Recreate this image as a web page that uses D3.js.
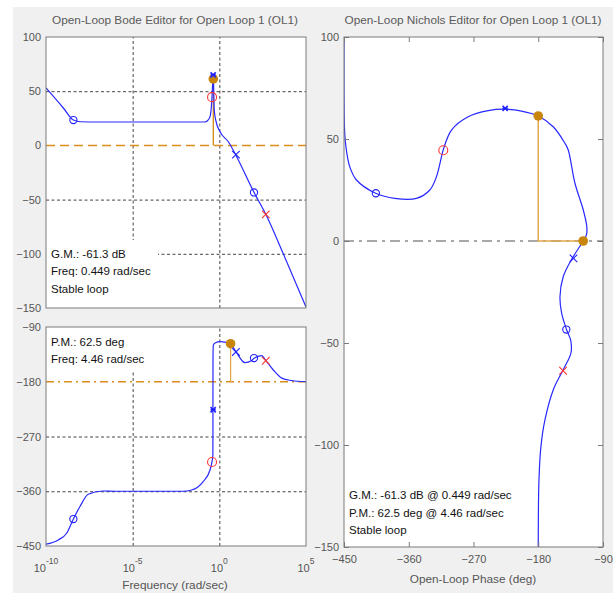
<!DOCTYPE html>
<html>
<head>
<meta charset="utf-8">
<script src="https://cdnjs.cloudflare.com/ajax/libs/d3/7.8.5/d3.min.js"></script>
<style>
html, body { margin: 0; padding: 0; background: #fff; }
svg { display: block; font-family: "Liberation Sans", Arial, sans-serif; }
</style>
</head>
<body>
<div id="chart"></div>
<script>
// Bode magnitude (rad/sec, dB)
var magFreq = [1e-10, 1e-9, 3.8e-9, 1e-8, 1e-7, 0.15, 0.2, 0.29, 0.36, 0.38, 0.445, 0.51, 0.62, 1.1, 3.3, 10, 100, 480, 4900, 1e5];
var magDb   = [53, 34.5, 23.4, 21.8, 21.6, 21.6, 22.5, 26.5, 38.9, 45, 66, 32.7, 23.4, 12.6, 3.4, -10.4, -43.3, -63.6, -100, -149];

// Bode phase (rad/sec, deg)
var phaseFreq = [1e-10, 5.1e-10, 1.55e-9, 3.8e-9, 9.1e-9, 2.75e-8, 2e-7, 1e-6, 7.8e-3, 0.025, 0.117, 0.29, 0.38, 0.425, 0.428, 0.431, 0.45, 0.6, 1.1, 4.46, 9.1, 30, 74, 100, 280, 480, 1300, 4000, 15000, 1e5];
var phaseDeg  = [-447, -440, -429, -405.6, -385, -365, -359.6, -360, -360, -358, -344, -325, -311, -300, -226, -140, -120, -116, -114, -117.5, -130.6, -148.7, -145, -141.5, -137, -145, -160.7, -174, -178, -180];

// Nichols curve (deg, dB)
var nicholsPhase = [-450, -449, -446.7, -442, -432.7, -405.9, -379.4, -349.3, -330.7, -321.5, -314.5, -312.5, -300.6, -277.4, -249.6, -226.4, -203.2, -180, -159.2, -142.9, -138.3, -129, -117.4, -112.5, -113, -117.5, -133.6, -145.3, -149.8, -147.5, -140.5, -135, -134.6, -146.1, -159.2, -170.7, -176.3, -179, -180];
var nicholsMag   = [100, 52.8, 44.6, 36.4, 29.9, 23.4, 20.9, 20.9, 25, 31.5, 41.3, 44.2, 54.4, 60.9, 63.9, 64.6, 63.7, 61.3, 56, 47.9, 44.6, 28.3, 15.2, 7, 3, 0, -9, -17.5, -27.3, -35.4, -43.6, -48.5, -55, -63.6, -73, -87.7, -100.8, -117, -150];

// compensator markers
var markers = [
  { freq: 3.8e-9, mag: 23.4, phase: -405.7, shape: "o", color: "#2222ff" },
  { freq: 0.38,   mag: 44.5, phase: -312,   shape: "o", color: "#ff3333" },
  { freq: 0.44,   mag: 65,   phase: -226,   shape: "*", color: "#2222ff" },
  { freq: 9.1,    mag: -8.5, phase: -131,   shape: "x", color: "#2222ff" },
  { freq: 100,    mag: -43.4, phase: -141,  shape: "o", color: "#2222ff" },
  { freq: 480,    mag: -63.6, phase: -145.5, shape: "x", color: "#ff3333" }
];

// stability margins
var gmDb = -61.3, gmFreq = 0.449;
var pmDeg = 62.5, pmFreq = 4.46;

var freqTicks = [1e-10, 1e-5, 1e0, 1e5];
var magTicks = [100, 50, 0, -50, -100, -150];
var phaseTicks = [-90, -180, -270, -360, -450];
var nicholsXTicks = [-450, -360, -270, -180, -90];
var nicholsYTicks = [100, 50, 0, -50, -100, -150];

var W = 613, H = 593;
var BLUE = "#2828ff", GOLD = "#c8860c", LINE_GOLD = "#e2a64c", DASH_GOLD = "#dc8e1c";
var TICK_COL = "#555", TITLE_COL = "#5a5a5a";

var svg = d3.select("#chart").append("svg").attr("width", W).attr("height", H);
svg.append("rect").attr("x", 13).attr("y", 7).attr("width", W - 13).attr("height", H - 7).attr("fill", "#f0f0f0");

var magBox = { x0: 46, x1: 306, y0: 37, y1: 308 };
var phBox = { x0: 46, x1: 306, y0: 327, y1: 546 };
var niBox = { x0: 344, x1: 603, y0: 37, y1: 547 };

var xFreq = d3.scaleLog().domain([1e-10, 1e5]).range([magBox.x0, magBox.x1]);
var yMag = d3.scaleLinear().domain([-150, 100]).range([magBox.y1, magBox.y0]);
var yPh = d3.scaleLinear().domain([-450, -90]).range([phBox.y1, phBox.y0]);
var xNi = d3.scaleLinear().domain([-450, -90]).range([niBox.x0, niBox.x1]);
var yNi = d3.scaleLinear().domain([-150, 100]).range([niBox.y1, niBox.y0]);

function panel(box, id) {
  svg.append("clipPath").attr("id", id).append("rect")
    .attr("x", box.x0).attr("y", box.y0).attr("width", box.x1 - box.x0).attr("height", box.y1 - box.y0);
  svg.append("rect").attr("x", box.x0).attr("y", box.y0)
    .attr("width", box.x1 - box.x0).attr("height", box.y1 - box.y0).attr("fill", "#fff");
  return svg.append("g").attr("clip-path", "url(#" + id + ")");
}

function styleLabels(g) {
  g.select(".domain").remove();
  g.selectAll("text").attr("fill", TICK_COL).style("font-size", "11px");
}

function grid(g, box, yScale, yVals) {
  g.append("g").attr("transform", "translate(" + box.x0 + ",0)")
    .call(d3.axisLeft(yScale).tickValues(yVals).tickSize(-(box.x1 - box.x0)).tickFormat(""))
    .call(function(a) {
      a.select(".domain").remove();
      a.selectAll("line").attr("stroke", "#444").attr("stroke-dasharray", "3,2.5");
    });
  g.append("g").attr("transform", "translate(0," + box.y1 + ")")
    .call(d3.axisBottom(xFreq).tickValues([1e-5, 1e0]).tickSize(-(box.y1 - box.y0)).tickFormat(""))
    .call(function(a) {
      a.select(".domain").remove();
      a.selectAll("line").attr("stroke", "#444").attr("stroke-dasharray", "3,2.5");
    });
}

function drawMarker(g, x, y, m) {
  if (m.shape === "o") {
    g.append("circle").attr("cx", x).attr("cy", y).attr("r", m.color === "#ff3333" ? 4.5 : 3.6)
      .attr("fill", "none").attr("stroke", m.color).attr("stroke-width", 1.1);
  } else if (m.shape === "x") {
    var s = 3.8;
    g.append("path").attr("d", "M" + (x - s) + "," + (y - s) + "L" + (x + s) + "," + (y + s) +
      "M" + (x - s) + "," + (y + s) + "L" + (x + s) + "," + (y - s))
      .attr("stroke", m.color).attr("stroke-width", 1.1);
  } else {
    var r = 2.6;
    g.append("path").attr("d", "M" + (x - r) + "," + (y - r) + "L" + (x + r) + "," + (y + r) +
      "M" + (x - r) + "," + (y + r) + "L" + (x + r) + "," + (y - r) +
      "M" + (x - r) + "," + y + "L" + (x + r) + "," + y)
      .attr("stroke", m.color).attr("stroke-width", 1.6);
  }
}

function infoBox(lines, x, y0, dy) {
  lines.forEach(function(t, i) {
    svg.append("text").attr("x", x).attr("y", y0 + i * dy).attr("fill", "#111")
      .style("font-size", "11.5px").text(t);
  });
}

// ---------- Bode magnitude ----------
var gMag = panel(magBox, "clipMag");
grid(gMag, magBox, yMag, [50, -50, -100]);
// white patch under the margin text
gMag.append("rect").attr("x", magBox.x0).attr("y", 240).attr("width", 112).attr("height", magBox.y1 - 240).attr("fill", "#fff");
gMag.append("line").attr("x1", magBox.x0).attr("x2", magBox.x1).attr("y1", yMag(0)).attr("y2", yMag(0))
  .attr("stroke", DASH_GOLD).attr("stroke-width", 1.5).attr("stroke-dasharray", "9,5");
gMag.append("line").attr("x1", xFreq(gmFreq)).attr("x2", xFreq(gmFreq)).attr("y1", yMag(0)).attr("y2", yMag(-gmDb))
  .attr("stroke", "#d08a10").attr("stroke-width", 1.3);
gMag.append("path").datum(d3.zip(magFreq, magDb))
  .attr("d", d3.line().x(function(d) { return xFreq(d[0]); }).y(function(d) { return yMag(d[1]); }).curve(d3.curveMonotoneX))
  .attr("fill", "none").attr("stroke", BLUE).attr("stroke-width", 1.2);
gMag.append("circle").attr("cx", xFreq(gmFreq)).attr("cy", yMag(-gmDb)).attr("r", 4.8).attr("fill", GOLD);
markers.forEach(function(m) { drawMarker(gMag, xFreq(m.freq), yMag(m.mag), m); });
svg.append("rect").attr("x", magBox.x0).attr("y", magBox.y0).attr("width", magBox.x1 - magBox.x0)
  .attr("height", magBox.y1 - magBox.y0).attr("fill", "none").attr("stroke", "#7a7a7a");
svg.append("g").attr("transform", "translate(" + (magBox.x0 - 2) + ",0)")
  .call(d3.axisLeft(yMag).tickValues(magTicks).tickSize(0).tickPadding(3)).call(styleLabels);
infoBox(["G.M.: " + gmDb + " dB", "Freq: " + gmFreq + " rad/sec", "Stable loop"], 51, 258, 17.3);
svg.append("text").attr("x", 175).attr("y", 24).attr("text-anchor", "middle").attr("fill", TITLE_COL)
  .style("font-size", "11.8px").text("Open-Loop Bode Editor for Open Loop 1 (OL1)");

// ---------- Bode phase ----------
var gPh = panel(phBox, "clipPh");
grid(gPh, phBox, yPh, [-270, -360, -450]);
gPh.append("rect").attr("x", phBox.x0).attr("y", phBox.y0).attr("width", 110).attr("height", 44).attr("fill", "#fff");
gPh.append("line").attr("x1", phBox.x0).attr("x2", phBox.x1).attr("y1", yPh(-180)).attr("y2", yPh(-180))
  .attr("stroke", DASH_GOLD).attr("stroke-width", 1.5).attr("stroke-dasharray", "8,4,2,4");
gPh.append("line").attr("x1", xFreq(pmFreq)).attr("x2", xFreq(pmFreq)).attr("y1", yPh(-180)).attr("y2", yPh(-180 + pmDeg))
  .attr("stroke", LINE_GOLD).attr("stroke-width", 1.3);
gPh.append("path").datum(d3.zip(phaseFreq, phaseDeg))
  .attr("d", d3.line().x(function(d) { return xFreq(d[0]); }).y(function(d) { return yPh(d[1]); }).curve(d3.curveMonotoneX))
  .attr("fill", "none").attr("stroke", BLUE).attr("stroke-width", 1.2);
gPh.append("circle").attr("cx", xFreq(pmFreq)).attr("cy", yPh(-180 + pmDeg)).attr("r", 4.8).attr("fill", GOLD);
markers.forEach(function(m) { drawMarker(gPh, xFreq(m.freq), yPh(m.phase), m); });
svg.append("rect").attr("x", phBox.x0).attr("y", phBox.y0).attr("width", phBox.x1 - phBox.x0)
  .attr("height", phBox.y1 - phBox.y0).attr("fill", "none").attr("stroke", "#7a7a7a");
svg.append("g").attr("transform", "translate(" + (phBox.x0 - 2) + ",0)")
  .call(d3.axisLeft(yPh).tickValues(phaseTicks).tickSize(0).tickPadding(3)).call(styleLabels);
infoBox(["P.M.: " + pmDeg + " deg", "Freq: " + pmFreq + " rad/sec"], 51, 346, 17.3);

// frequency tick labels 10^n
var fx = svg.append("g");
freqTicks.forEach(function(f) {
  var t = fx.append("text").attr("x", xFreq(f)).attr("y", 572).attr("text-anchor", "middle")
    .attr("fill", TICK_COL).style("font-size", "11px");
  t.append("tspan").text("10");
  t.append("tspan").attr("dy", -8).style("font-size", "8.5px").text(Math.round(Math.log10(f)));
});
svg.append("text").attr("x", 175).attr("y", 589).attr("text-anchor", "middle").attr("fill", TICK_COL)
  .style("font-size", "11.8px").text("Frequency (rad/sec)");

// ---------- Nichols ----------
var gNi = panel(niBox, "clipNi");
gNi.append("line").attr("x1", niBox.x0).attr("x2", niBox.x1).attr("y1", yNi(0)).attr("y2", yNi(0))
  .attr("stroke", "#8c8c8c").attr("stroke-width", 1.5).attr("stroke-dasharray", "10,5,3,5");
gNi.append("path").attr("d", "M" + xNi(-180) + "," + yNi(-gmDb) + "L" + xNi(-180) + "," + yNi(0) +
  "L" + xNi(-180 + pmDeg) + "," + yNi(0)).attr("fill", "none").attr("stroke", LINE_GOLD).attr("stroke-width", 1.5);
gNi.append("path").datum(d3.zip(nicholsPhase, nicholsMag))
  .attr("d", d3.line().x(function(d) { return xNi(d[0]); }).y(function(d) { return yNi(d[1]); }).curve(d3.curveCatmullRom.alpha(0.5)))
  .attr("fill", "none").attr("stroke", BLUE).attr("stroke-width", 1.2);
gNi.append("circle").attr("cx", xNi(-180)).attr("cy", yNi(-gmDb)).attr("r", 4.8).attr("fill", GOLD);
gNi.append("circle").attr("cx", xNi(-180 + pmDeg)).attr("cy", yNi(0)).attr("r", 4.8).attr("fill", GOLD);
markers.forEach(function(m) { drawMarker(gNi, xNi(m.phase), yNi(m.mag), m); });
svg.append("rect").attr("x", niBox.x0).attr("y", niBox.y0).attr("width", niBox.x1 - niBox.x0)
  .attr("height", niBox.y1 - niBox.y0).attr("fill", "none").attr("stroke", "#7a7a7a");

function tickStyle(a) {
  a.select(".domain").remove();
  a.selectAll("line").attr("stroke", "#7a7a7a");
  a.selectAll("text").attr("fill", TICK_COL).style("font-size", "11px");
}
svg.append("g").attr("transform", "translate(" + niBox.x0 + ",0)")
  .call(d3.axisLeft(yNi).tickValues(nicholsYTicks).tickSize(-5).tickPadding(5)).call(tickStyle);
svg.append("g").attr("transform", "translate(" + niBox.x1 + ",0)")
  .call(d3.axisRight(yNi).tickValues(nicholsYTicks).tickSize(-5).tickFormat("")).call(tickStyle);
svg.append("g").attr("transform", "translate(0," + niBox.y1 + ")")
  .call(d3.axisBottom(xNi).tickValues(nicholsXTicks).tickSize(-5).tickPadding(8)).call(tickStyle);
svg.append("g").attr("transform", "translate(0," + niBox.y0 + ")")
  .call(d3.axisTop(xNi).tickValues(nicholsXTicks).tickSize(-5).tickFormat("")).call(tickStyle);

infoBox(["G.M.: " + gmDb + " dB @ " + gmFreq + " rad/sec", "P.M.: " + pmDeg + " deg @ " + pmFreq + " rad/sec", "Stable loop"], 349, 499, 17.5);
svg.append("text").attr("x", 473).attr("y", 24).attr("text-anchor", "middle").attr("fill", TITLE_COL)
  .style("font-size", "11.8px").text("Open-Loop Nichols Editor for Open Loop 1 (OL1)");
svg.append("text").attr("x", 473).attr("y", 583).attr("text-anchor", "middle").attr("fill", TICK_COL)
  .style("font-size", "11.8px").text("Open-Loop Phase (deg)");
</script>
</body>
</html>
